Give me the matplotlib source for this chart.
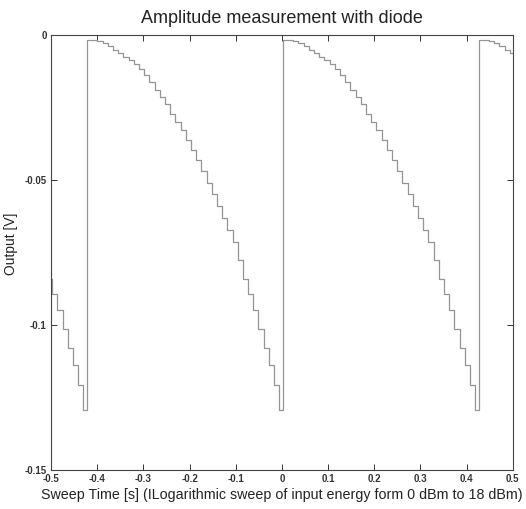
#!/usr/bin/env python3
"""Amplitude measurement with diode - staircase sweep."""

import matplotlib
matplotlib.use("Agg")
import matplotlib.pyplot as plt
import numpy as np

plt.rcParams.update({
    "font.family": ["Liberation Sans", "DejaVu Sans"],
    "font.size": 10,
})

# one sweep: output level of each step [V]
sweep_levels = [
    -0.0017, -0.0017, -0.0019, -0.0027, -0.0038, -0.0050, -0.0063, -0.0076,
    -0.0087, -0.0099, -0.0118, -0.0139, -0.0163, -0.0188, -0.0212, -0.0239,
    -0.0271, -0.0300, -0.0329, -0.0362, -0.0396, -0.0432, -0.0470, -0.0510,
    -0.0549, -0.0589, -0.0630, -0.0672, -0.0715, -0.0776, -0.0840, -0.0895,
    -0.0948, -0.1015, -0.1078, -0.1140, -0.1207, -0.1293,
]
step_dt = 0.01125          # duration of one step [s]
period = 0.424             # sweep repetition [s]
sweep_starts = [-0.846, -0.422, 0.002, 0.426]

x_ticks = [-0.5, -0.4, -0.3, -0.2, -0.1, 0, 0.1, 0.2, 0.3, 0.4, 0.5]
x_labels = ["-0.5", "-0.4", "-0.3", "-0.2", "-0.1", "0", "0.1", "0.2", "0.3", "0.4", "0.5"]
y_ticks = [0, -0.05, -0.1, -0.15]
y_labels = ["0", "-0.05", "-0.1", "-0.15"]


def main():
    levels = np.array(sweep_levels)
    k = np.arange(len(levels))
    t_all, v_all = [], []
    for s in sweep_starts:
        t_all.append(s + k * step_dt)
        v_all.append(levels)
    t_all.append([sweep_starts[-1] + period])
    v_all.append([levels[0]])
    t = np.concatenate(t_all)
    v = np.concatenate(v_all)

    fig = plt.figure(figsize=(5.26, 5.09), dpi=100)
    ax = fig.add_axes([0.097, 0.077, 0.878, 0.854])
    ax.step(t, v, where="post", color="#959595", linewidth=0.9)

    ax.set_xlim(-0.5, 0.5)
    ax.set_ylim(-0.15, 0)
    ax.set_xticks(x_ticks)
    ax.set_xticklabels(x_labels)
    ax.set_yticks(y_ticks)
    ax.set_yticklabels(y_labels)
    ax.tick_params(direction="in", length=4, width=0.7, labelsize=7,
                   top=True, right=True, pad=3, colors="#333333")
    for lab in ax.get_xticklabels() + ax.get_yticklabels():
        lab.set_fontweight("bold")
    for sp in ax.spines.values():
        sp.set_linewidth(0.8)
        sp.set_color("#444444")

    ax.set_title("Amplitude measurement with diode", fontsize=13, pad=9, color="#222222")
    ax.set_xlabel("Sweep Time [s] (ILogarithmic sweep of input energy form 0 dBm to 18 dBm)",
                  fontsize=10.3, labelpad=3, color="#222222")
    ax.set_ylabel("Output [V]", fontsize=10, labelpad=9, color="#222222")
    ax.yaxis.set_label_coords(-0.072, 0.52)

    fig.savefig("out.png", dpi=100)
    plt.close(fig)


if __name__ == "__main__":
    main()
